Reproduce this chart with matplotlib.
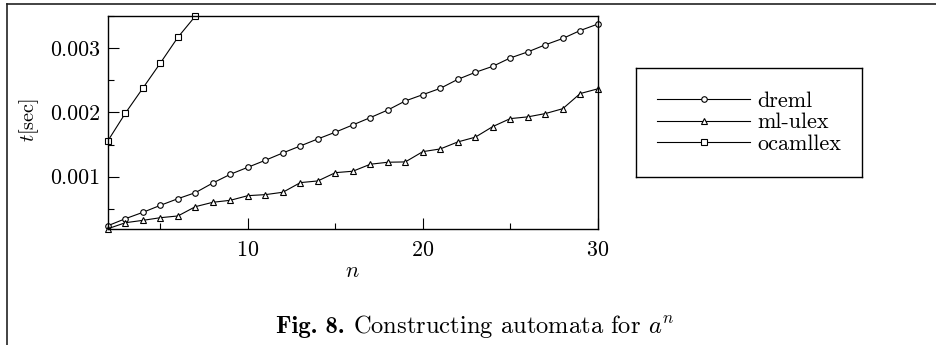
import numpy as np
import matplotlib
matplotlib.use('Agg')
from matplotlib import pyplot as plt
from matplotlib.lines import Line2D
from matplotlib.ticker import MultipleLocator, FixedLocator, FixedFormatter

plt.rcParams['font.family'] = ['cmr10', 'DejaVu Serif']
plt.rcParams['mathtext.fontset'] = 'cm'
plt.rcParams['axes.formatter.use_mathtext'] = True

# data
n_long = list(range(2, 31))
n_short = list(range(2, 8))

dreml = [0.000237, 0.000346, 0.000445, 0.000554, 0.000657, 0.000751, 0.000902,
         0.001037, 0.001146, 0.001255, 0.001369, 0.001478, 0.001587, 0.001692,
         0.001805, 0.001919, 0.002037, 0.002178, 0.002276, 0.002374, 0.002514,
         0.002623, 0.002717, 0.002847, 0.002941, 0.003051, 0.003150, 0.003274,
         0.003374]
ml_ulex = [0.000190, 0.000283, 0.000320, 0.000361, 0.000388, 0.000533, 0.000601,
           0.000632, 0.000704, 0.000720, 0.000757, 0.000907, 0.000933, 0.001062,
           0.001084, 0.001193, 0.001224, 0.001229, 0.001389, 0.001431, 0.001540,
           0.001614, 0.001779, 0.001903, 0.001930, 0.001981, 0.002057, 0.002293,
           0.002366]
ocamllex = [0.00156, 0.00199, 0.00238, 0.00277, 0.00317, 0.00350]

series_names = ['dreml', 'ml-ulex', 'ocamllex']
y_ticks = [0.001, 0.002, 0.003]
y_tick_labels = ['0.001', '0.002', '0.003']
x_ticks = [10, 20, 30]
y_label = r'$t[\mathrm{sec}]$'
cap_bold = 'Fig. 8.'
cap_rest = r'Constructing automata for $a^n$'

W, H = 936, 345
PX = 100 / 72  # pixels per point
fig = plt.figure(figsize=(W / 100, H / 100), dpi=100)
r = fig.canvas.get_renderer()


def width_at10(s, **kw):
    # rendered width in px of a string at 10pt
    t = fig.text(0, 0, s, fontsize=10, **kw)
    w = t.get_window_extent(r).width
    t.remove()
    return w


# pick font sizes so texts take the same room as in the picture
FS = 10 * 50 / width_at10('0.003')
FS_Y = 10 * 45 / width_at10(y_label)
FS_LEG = 10 * 84 / width_at10('ocamllex')
gap10 = 0.35 * 10 * PX
FS_CAP = 10 * 400 / (width_at10(cap_bold, fontfamily='cmb10') + gap10 + width_at10(cap_rest))

# axes box in pixel coords -> figure fractions
left, right, top, bottom = 108, 597.7, 16, 229
ax = fig.add_axes((left / W, 1 - bottom / H, (right - left) / W, (bottom - top) / H))

style = dict(color='black', lw=0.8, mfc='white', mec='black', mew=0.8, clip_on=False)
ax.plot(n_long, dreml, marker='o', ms=4, label=series_names[0], **style)
ax.plot(n_long, ml_ulex, marker='^', ms=4.5, label=series_names[1], **style)
ax.plot(n_short, ocamllex, marker='s', ms=4, label=series_names[2], **style)

ax.set_xlim(2, 30)
ax.set_ylim(0.000185, 0.0035)

ax.xaxis.set_major_locator(FixedLocator(x_ticks))
ax.xaxis.set_minor_locator(MultipleLocator(5))
ax.yaxis.set_major_locator(FixedLocator(y_ticks))
ax.yaxis.set_major_formatter(FixedFormatter(y_tick_labels))
ax.yaxis.set_minor_locator(MultipleLocator(0.0005))

ax.tick_params(which='both', direction='in', top=False, right=False, labelsize=FS)
ax.tick_params(axis='x', which='major', length=8, width=0.8, pad=8)
ax.tick_params(axis='x', which='minor', length=4.5, width=0.8)
ax.tick_params(axis='y', which='major', length=8, width=0.8, pad=5.5)
ax.tick_params(axis='y', which='minor', length=4.5, width=0.8)
for sp in ax.spines.values():
    sp.set_linewidth(1.0)

ax.set_xlabel(r'$n$', fontsize=FS)
ax.xaxis.set_label_coords(0.498, -0.2)
ax.xaxis.label.set_va('center')
ax.set_ylabel(y_label, fontsize=FS_Y)
ax.yaxis.set_label_coords(-0.162, 0.51)
ax.yaxis.label.set_va('center')

# legend inside its own framed box
lx0, lx1, ly0, ly1 = 636, 862, 68, 177
lax = fig.add_axes((lx0 / W, 1 - ly1 / H, (lx1 - lx0) / W, (ly1 - ly0) / H))
lax.set_xticks([])
lax.set_yticks([])
for sp in lax.spines.values():
    sp.set_linewidth(1.0)
handles, labels = ax.get_legend_handles_labels()
lax.legend(handles, labels, loc='center', frameon=False, fontsize=FS_LEG,
           handlelength=93 / (FS_LEG * PX), handletextpad=7 / (FS_LEG * PX),
           labelspacing=0.1, borderaxespad=0)

# caption: bold "Fig. 8." followed by regular text, centred as one line
cap_y = 1 - 333 / H
cap_cx = 475.5
t_bold = fig.text(0, cap_y, cap_bold, fontfamily='cmb10', fontsize=FS_CAP,
                  va='baseline', ha='left')
t_rest = fig.text(0, cap_y, cap_rest, fontsize=FS_CAP, va='baseline', ha='left')
wb = t_bold.get_window_extent(r).width
wr = t_rest.get_window_extent(r).width
gap = 0.35 * FS_CAP * PX
x0 = cap_cx - (wb + gap + wr) / 2
t_bold.set_x(x0 / W)
t_rest.set_x((x0 + wb + gap) / W)

# page frame fragments (top and left rule)
fig.add_artist(Line2D([7 / W, 1], [1 - 4 / H, 1 - 4 / H], transform=fig.transFigure,
                      color='#222222', lw=1.2))
fig.add_artist(Line2D([7 / W, 7 / W], [0, 1 - 4 / H], transform=fig.transFigure,
                      color='#222222', lw=1.2))

fig.savefig('out.png', dpi=100)
